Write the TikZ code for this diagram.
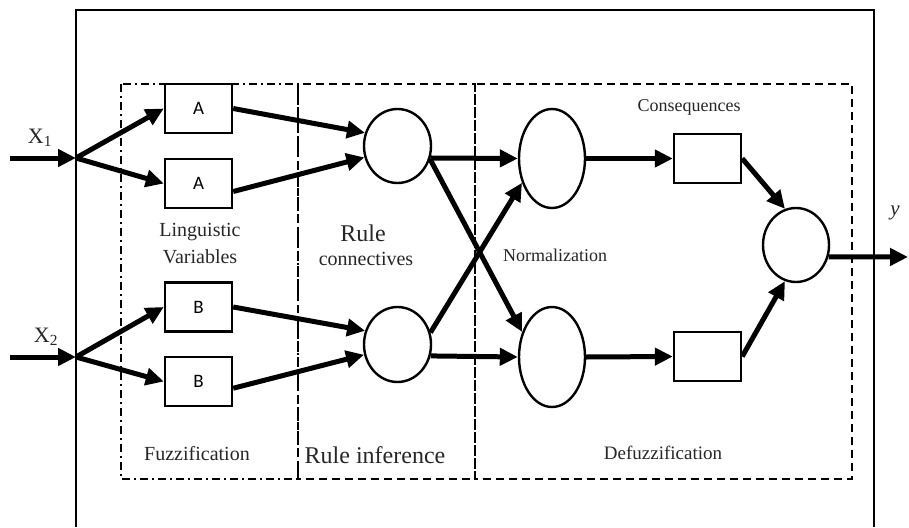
\documentclass[tikz,border=0pt]{standalone}
\usepackage{fontspec}
\setmainfont{Liberation Serif}
\newfontfamily\boxfont{Carlito}
\usetikzlibrary{arrows.meta,shapes.geometric}

\newcommand{\fsz}[1]{\fontsize{#1}{#1}\selectfont}

\begin{document}
\begin{tikzpicture}[x=1pt,y=-1pt,
  conn/.style={line width=5pt, -{Triangle[length=18pt,width=17pt]}},
  box/.style={draw, line width=2.4pt, rectangle, minimum width=67pt, minimum height=49pt,
              inner sep=0pt, font=\boxfont\fsz{19}},
  oval/.style={draw, ellipse, line width=2.4pt, inner sep=0pt, minimum width=67pt},
  frame/.style={line width=2.4pt},
  dashbox/.style={line width=2.2pt, dash pattern=on 8pt off 5pt},
  dotbox/.style={line width=2.2pt, dash pattern=on 8pt off 4pt on 2pt off 4pt},
  lab/.style={inner sep=0pt, anchor=center, text=black!85}
]
\useasboundingbox (0,0) rectangle (909,527);

% outer frame (bottom edge lies below the page)
\draw[frame] (76,527) -- (76,10) -- (874,10) -- (874,527);

% stage boxes
\draw[dotbox]  (121,84) rectangle (298,479);
\draw[dashbox] (298,84) rectangle (475,479);
\draw[dashbox] (475,84) rectangle (852,479);

% fuzzification blocks
\node[box] (A1) at (198.5,108.5) {A};
\node[box] (A2) at (198.5,183.5) {A};
\node[box] (B1) at (198.5,307)   {B};
\node[box] (B2) at (198.5,381.5) {B};

% rule nodes
\node[oval, minimum height=74pt] (R1) at (397.5,146) {};
\node[oval, minimum height=75pt] (R2) at (397.5,344.5) {};

% normalization nodes
\node[oval, minimum width=66pt, minimum height=99pt]  (N1) at (552,158.5) {};
\node[oval, minimum width=66pt, minimum height=100pt] (N2) at (552,357) {};

% consequence blocks
\node[box] (C1) at (707.5,158.5) {};
\node[box] (C2) at (707.5,356.5) {};

% output node
\node[oval, minimum width=66pt, minimum height=74pt] (O) at (796,245) {};

% inputs and output
\coordinate (in1) at (10,158);
\coordinate (j1)  at (76,158);
\coordinate (in2) at (10,357);
\coordinate (j2)  at (76,357);
\coordinate (out) at (908,257);

\draw[conn] (in1) -- (j1);
\draw[conn] (in2) -- (j2);
\draw[conn] (j1) -- (A1.west);
\draw[conn] (j1) -- (A2.west);
\draw[conn] (j2) -- (B1.west);
\draw[conn] (j2) -- (B2.west);

\draw[conn] (A1.east) -- (R1.158);
\draw[conn] (A2.-13)  -- (R1.199);
\draw[conn] (B1.east) -- (R2.157);
\draw[conn] (B2.-11)  -- (R2.197);

\draw[conn] (R1.-20) -- (N1.west);
\draw[conn] (R2.-19) -- (N2.west);
\draw[conn] (R1.-22) -- (N2.140);
\draw[conn] (R2.20)  -- (N1.219);

\draw[conn] (N1.east) -- (C1.west);
\draw[conn] (N2.east) -- (C2.west);
\draw[conn] (C1.east) -- (O.107);
\draw[conn] (C2.east) -- (O.253);
\draw[conn] (O.-20) -- (out);

% labels
\node[lab, font=\fsz{22}] (tX1) at (40,138) {X\textsubscript{1}};
\node[lab, font=\fsz{22}] (tX2) at (46,337) {X\textsubscript{2}};
\node[lab, font=\fsz{21}\itshape] (ty) at (895,213) {y};

\node[lab, font=\fsz{20}] (tLing) at (200,232) {Linguistic};
\node[lab, font=\fsz{20}] (tVar)  at (200,257) {Variables};
\node[lab, font=\fsz{24}] (tRule) at (363,233) {Rule};
\node[lab, font=\fsz{20}] (tConn) at (366,259) {connectives};
\node[lab, font=\fsz{18}] (tNorm) at (555,255) {Normalization};
\node[lab, font=\fsz{18}] (tCons) at (689,107) {Consequences};

\node[lab, font=\fsz{20}] (tFuzz)   at (197,454) {Fuzzification};
\node[lab, font=\fsz{24}] (tInfer)  at (375,455) {Rule inference};
\node[lab, font=\fsz{19}] (tDefuzz) at (663,453) {Defuzzification};
\end{tikzpicture}
\end{document}
